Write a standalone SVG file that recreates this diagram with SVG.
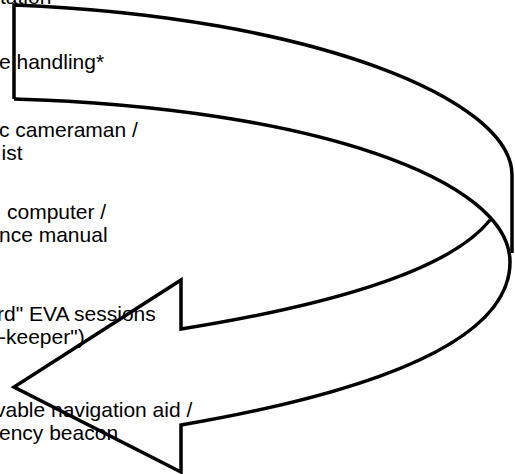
<svg xmlns="http://www.w3.org/2000/svg" width="515" height="474" viewBox="0 0 515 474">
<style>
.t{font-family:"Liberation Sans",Arial,sans-serif;font-size:21px;fill:#000}
.s{fill:none;stroke:#000;stroke-width:3.5;stroke-linejoin:miter;stroke-miterlimit:10}
</style>
<rect width="515" height="474" fill="#fff"/>
<g id="labels">
<text class="t" x="0" y="4">tation</text>
<text class="t" x="-1" y="69">e handling*</text>
<text class="t" x="-1" y="137">c cameraman /</text>
<text class="t" x="1.5" y="160">ist</text>
<text class="t" x="7" y="219">computer /</text>
<text class="t" x="-1" y="242">nce manual</text>
<text class="t" x="-3" y="321">rd" EVA sessions</text>
<text class="t" x="-1" y="344">-keeper")</text>
<text class="t" x="-5" y="417">vable navigation aid /</text>
<text class="t" x="-1" y="440">ency beacon</text>
</g>
<g id="arrow">
<path class="s" d="M14,99 L14,5 C314,17 512,100 512,175 L512,253"/>
<path class="s" d="M14,99 C314,108 510,180 510,262 C510,322 431,382 181,425 L181,472 L14,387 L181,280 L181,329 C331,305 450,270 490,220"/>
</g>
</svg>
